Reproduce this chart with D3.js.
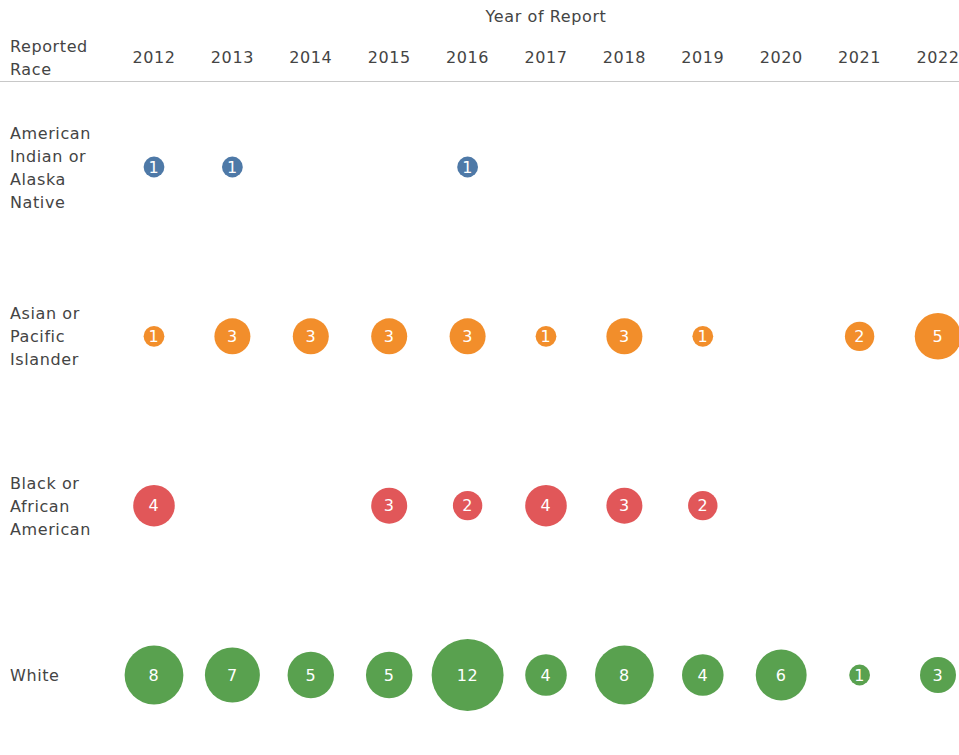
<!DOCTYPE html>
<html>
<head>
<meta charset="utf-8">
<script src="https://cdn.jsdelivr.net/npm/d3@7"></script>
<style>
	body { margin: 0; background: #fff; }
	svg text { font-family: "DejaVu Sans", Verdana, sans-serif; letter-spacing: 0.6px; }
</style>
</head>
<body>
<div class="chart"></div>
<script>
var years = [2012, 2013, 2014, 2015, 2016, 2017, 2018, 2019, 2020, 2021, 2022];
var races = ["American Indian or Alaska Native", "Asian or Pacific Islander", "Black or African American", "White"];
var raceLines = [["American", "Indian or", "Alaska", "Native"], ["Asian or", "Pacific", "Islander"], ["Black or", "African", "American"], ["White"]];
var colors = ["#4e79a7", "#f28e2b", "#e15759", "#59a14f"];

// counts by year, null = no report
var amIndian = [1, 1, null, null, 1, null, null, null, null, null, null];
var asian = [1, 3, 3, 3, 3, 1, 3, 1, null, 2, 5];
var black = [4, null, null, 3, 2, 4, 3, 2, null, null, null];
var white = [8, 7, 5, 5, 12, 4, 8, 4, 6, 1, 3];

var counts = [amIndian, asian, black, white];

var w = 959, h = 755;
var textColor = '#444';
var svg = d3.select('.chart')
	.append('svg')
	.attr('width', w)
	.attr('height', h);

var x = d3.scalePoint().domain(years).range([154, 938]);
var y = d3.scalePoint().domain(races).range([167, 675]);
var r = d3.scaleSqrt().domain([0, 12]).range([0, 36]);

var points = [];
counts.forEach(function(row, i) {
	row.forEach(function(v, j) {
		if (v != null) {
			points.push({race: races[i], year: years[j], value: v, color: colors[i]});
		}
	});
});

// header
svg.append('text')
	.attr('x', x(2017))
	.attr('y', 22)
	.attr('text-anchor', 'middle')
	.attr('font-size', '16px')
	.attr('fill', textColor)
	.text('Year of Report');

svg.append('text')
	.attr('x', 10)
	.attr('y', 52)
	.attr('font-size', '16px')
	.attr('fill', textColor)
	.selectAll('tspan')
	.data(['Reported', 'Race'])
	.enter()
	.append('tspan')
	.attr('x', 10)
	.attr('dy', function(d, i) { return i ? 23 : 0; })
	.text(function(d) { return d; });

svg.selectAll('.year')
	.data(years)
	.enter()
	.append('text')
	.attr('class', 'year')
	.attr('x', function(d) { return x(d); })
	.attr('y', 63)
	.attr('text-anchor', 'middle')
	.attr('font-size', '16px')
	.attr('fill', textColor)
	.text(function(d) { return d; });

svg.append('line')
	.attr('x1', 0)
	.attr('x2', w)
	.attr('y1', 81.5)
	.attr('y2', 81.5)
	.attr('stroke', '#c8c8c8')
	.attr('stroke-width', 1);

// row labels
raceLines.forEach(function(lines, i) {
	var cy = y(races[i]);
	var top = cy - (lines.length - 1) * 23 / 2 + 6;
	svg.append('text')
		.attr('font-size', '16px')
		.attr('fill', textColor)
		.selectAll('tspan')
		.data(lines)
		.enter()
		.append('tspan')
		.attr('x', 10)
		.attr('y', function(d, k) { return top + k * 23; })
		.text(function(d) { return d; });
});

svg.selectAll('circle')
	.data(points)
	.enter()
	.append('circle')
	.attr('cx', function(d) { return x(d.year); })
	.attr('cy', function(d) { return y(d.race); })
	.attr('r', function(d) { return r(d.value); })
	.attr('fill', function(d) { return d.color; });

svg.selectAll('.val')
	.data(points)
	.enter()
	.append('text')
	.attr('class', 'val')
	.attr('x', function(d) { return x(d.year); })
	.attr('y', function(d) { return y(d.race) + 5.5; })
	.attr('text-anchor', 'middle')
	.attr('font-size', '16px')
	.attr('fill', '#fff')
	.text(function(d) { return d.value; });
</script>
</body>
</html>
